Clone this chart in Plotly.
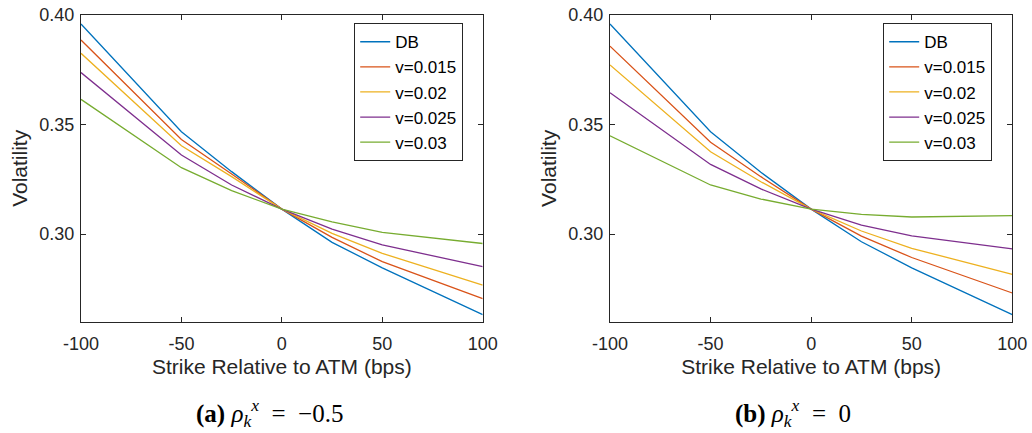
import plotly.graph_objects as go

strikes = [-100, -50, -25, 0, 25, 50, 100]
series_names = ["DB", "v=0.015", "v=0.02", "v=0.025", "v=0.03"]

# Panel (a): rho = -0.5
a_db     = [0.3959, 0.3467, 0.3285, 0.3114, 0.2962, 0.2846, 0.2632]
a_v015   = [0.3886, 0.3432, 0.3274, 0.3114, 0.2985, 0.2874, 0.2705]
a_v020   = [0.3825, 0.3403, 0.3262, 0.3114, 0.3003, 0.2912, 0.2767]
a_v025   = [0.3737, 0.3361, 0.3224, 0.3114, 0.3023, 0.2951, 0.2851]
a_v030   = [0.3615, 0.3303, 0.3198, 0.3114, 0.3056, 0.3008, 0.2957]

# Panel (b): rho = 0
b_db     = [0.3959, 0.3467, 0.3282, 0.3114, 0.2965, 0.2846, 0.2632]
b_v015   = [0.3858, 0.3419, 0.3262, 0.3114, 0.2991, 0.2893, 0.2731]
b_v020   = [0.3772, 0.3376, 0.3239, 0.3114, 0.3014, 0.2935, 0.2816]
b_v025   = [0.3645, 0.3318, 0.3206, 0.3114, 0.3041, 0.2992, 0.2932]
b_v030   = [0.3449, 0.3224, 0.3160, 0.3114, 0.3090, 0.3078, 0.3084]

x_tickvals = [-100, -50, 0, 50, 100]
x_ticktext = ["-100", "-50", "0", "50", "100"]
y_tickvals = [0.30, 0.35, 0.40]
y_ticktext = ["0.30", "0.35", "0.40"]
captions = ["<b>(a)</b>&nbsp;<i>ρ</i><sub><i>k</i></sub><sup><i>x</i></sup>&nbsp;&nbsp;=&nbsp;&nbsp;−0.5",
            "<b>(b)</b>&nbsp;<i>ρ</i><sub><i>k</i></sub><sup><i>x</i></sup>&nbsp;&nbsp;=&nbsp;&nbsp;0"]

colors = ["#0072BD", "#D95319", "#EDB120", "#7E2F8E", "#77AC30"]
panel_a = [a_db, a_v015, a_v020, a_v025, a_v030]
panel_b = [b_db, b_v015, b_v020, b_v025, b_v030]

fig = go.Figure()
for i, ys in enumerate(panel_a):
    fig.add_trace(go.Scatter(x=strikes, y=ys, mode="lines", name=series_names[i],
                             line=dict(color=colors[i], width=1.3),
                             xaxis="x", yaxis="y", legend="legend"))
for i, ys in enumerate(panel_b):
    fig.add_trace(go.Scatter(x=strikes, y=ys, mode="lines", name=series_names[i],
                             line=dict(color=colors[i], width=1.3),
                             xaxis="x2", yaxis="y2", legend="legend2"))

W, H = 1032, 433
SANS = "Liberation Sans, Arial, Helvetica"
ax_common = dict(showline=True, linecolor="#262626", linewidth=1.2, mirror="ticks",
                 ticks="inside", ticklen=5, tickcolor="#262626", tickwidth=1,
                 showgrid=False, zeroline=False, automargin=False,
                 tickfont=dict(family=SANS, size=18, color="#262626"))
xdom1 = [81 / W, 482.7 / W]
xdom2 = [610 / W, 1012.3 / W]
ydom = [1 - 321.7 / H, 1 - 15 / H]

title_font = dict(family=SANS, size=21, color="#262626")
xax = dict(range=[-100, 100], tickvals=x_tickvals, ticktext=x_ticktext, ticklabelstandoff=6,
           title=dict(text="Strike Relative to ATM (bps)", font=title_font, standoff=5), **ax_common)
yax = dict(range=[0.26, 0.40], tickvals=y_tickvals, ticktext=y_ticktext, ticklabelstandoff=2,
           title=dict(text="Volatility", font=title_font, standoff=5), **ax_common)
leg = dict(xanchor="left", yanchor="top", bordercolor="#262626", borderwidth=1.2, bgcolor="white",
           font=dict(family=SANS, size=17, color="#000000"), itemwidth=30, tracegroupgap=0)

fig.update_layout(
    width=W, height=H, margin=dict(l=0, r=0, t=0, b=0, autoexpand=False),
    paper_bgcolor="white", plot_bgcolor="white",
    xaxis=dict(domain=xdom1, anchor="y", **xax),
    yaxis=dict(domain=ydom, anchor="x", **yax),
    xaxis2=dict(domain=xdom2, anchor="y2", **xax),
    yaxis2=dict(domain=ydom, anchor="x2", **yax),
    legend=dict(x=354 / W, y=1 - 23 / H, **leg),
    legend2=dict(x=883 / W, y=1 - 23 / H, **leg),
    showlegend=True,
)

cap_font = dict(family="Liberation Serif, DejaVu Serif, serif", size=25, color="#000000")
fig.add_annotation(text=captions[0], x=269 / W, y=1 - 413 / H,
                   xref="paper", yref="paper", showarrow=False, font=cap_font,
                   xanchor="center", yanchor="middle")
fig.add_annotation(text=captions[1], x=793 / W, y=1 - 413 / H,
                   xref="paper", yref="paper", showarrow=False, font=cap_font,
                   xanchor="center", yanchor="middle")

fig.write_html("out.html", config={"displayModeBar": False},
               post_script="document.body.style.margin='0';document.body.style.overflow='hidden';")
